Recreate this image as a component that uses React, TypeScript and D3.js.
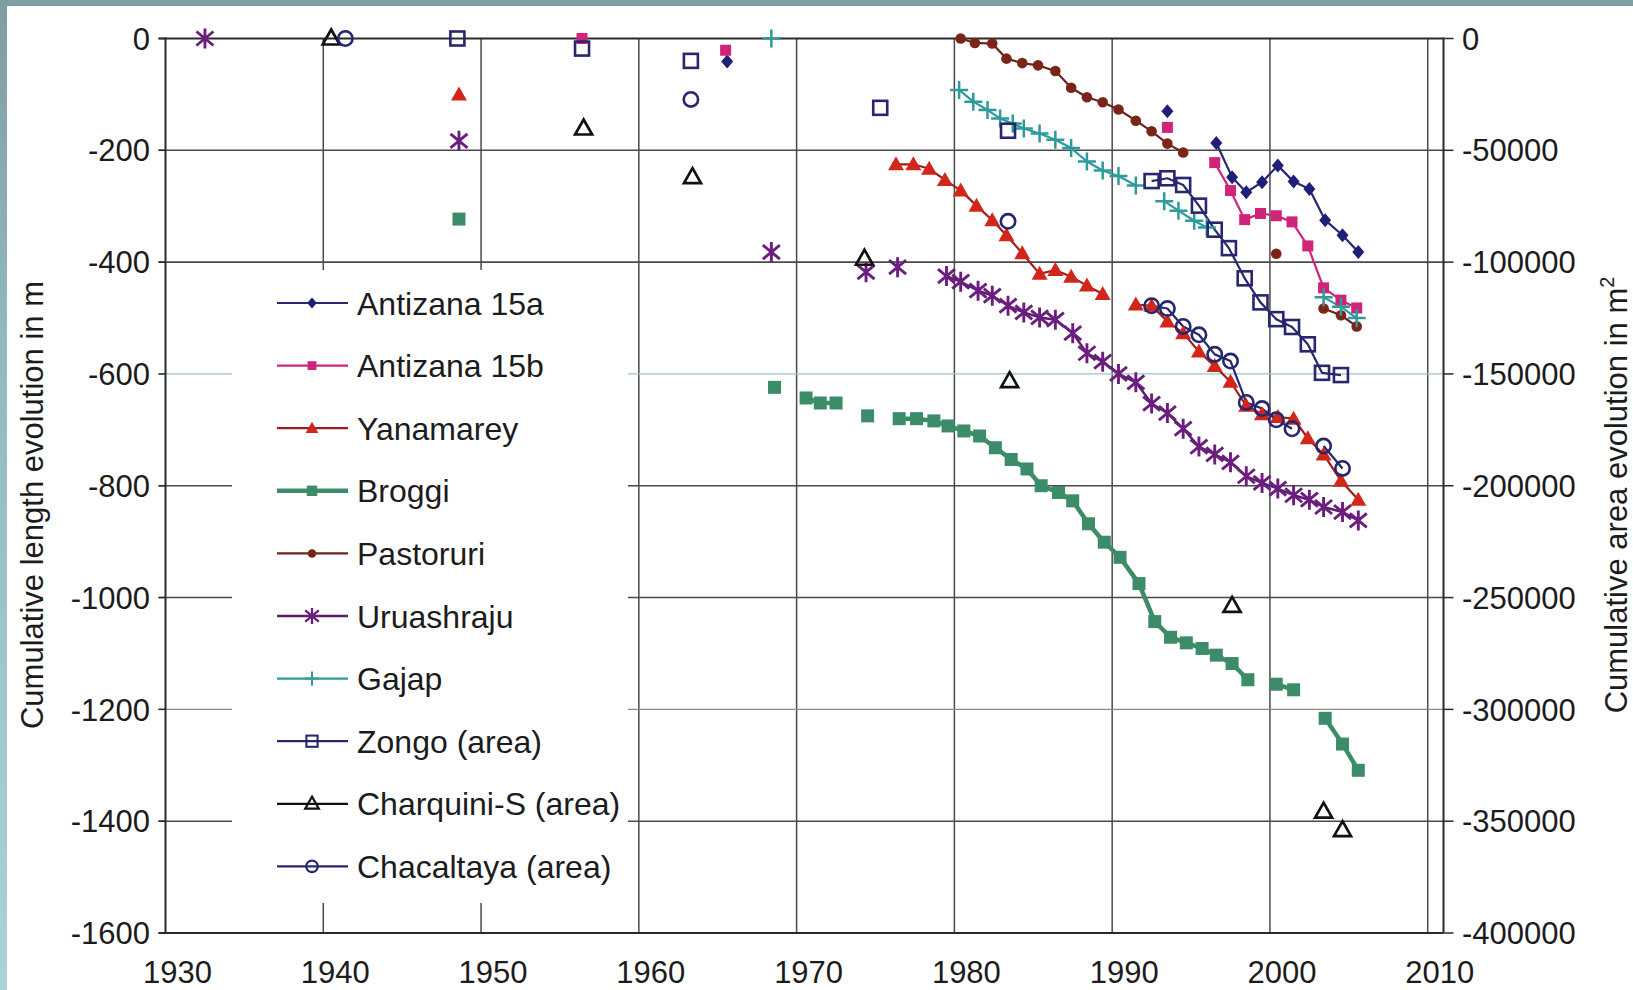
import React from "react";
import * as d3 from "d3";

type Pt = [number, number] | null;

// ---- axis ticks ----
const yearTicks = [1930, 1940, 1950, 1960, 1970, 1980, 1990, 2000, 2010];
const lengthTicks = [0, -200, -400, -600, -800, -1000, -1200, -1400, -1600];
const areaTicks = [0, -50000, -100000, -150000, -200000, -250000, -300000, -350000, -400000];

// ---- series (length in m), null = break in line ----
const antizana15a: Pt[] = [
  [1965.6, -41], null, [1993.5, -130], null,
  [1996.6, -187], [1997.6, -248], [1998.5, -275], [1999.5, -257], [2000.5, -227],
  [2001.5, -256], [2002.5, -269], [2003.5, -325], [2004.6, -352], [2005.6, -382],
];
const antizana15b: Pt[] = [
  [1956.4, 0], null, [1965.5, -21], null, [1993.5, -159], null,
  [1996.5, -222], [1997.5, -272], [1998.4, -324], [1999.4, -313], [2000.4, -317],
  [2001.4, -328], [2002.4, -371], [2003.4, -446], [2004.5, -468], [2005.5, -482],
];
const yanamarey: Pt[] = [
  [1948.6, -100], null,
  [1976.3, -225], [1977.4, -225], [1978.4, -233], [1979.4, -253], [1980.4, -272],
  [1981.4, -299], [1982.4, -325], [1983.3, -352], [1984.3, -384], [1985.4, -421],
  [1986.4, -414], [1987.4, -426], [1988.4, -442], [1989.4, -457], null,
  [1991.5, -476], [1992.5, -478], [1993.5, -506], [1994.5, -527], [1995.5, -560],
  [1996.5, -586], [1997.5, -614], [1998.5, -657], [1999.5, -672], [2000.5, -677],
  [2001.5, -680], [2002.4, -715], [2003.4, -744], [2004.5, -791], [2005.6, -825],
];
const broggi: Pt[] = [
  [1948.6, -323], null, [1968.6, -624], null,
  [1970.6, -643], [1971.5, -652], [1972.5, -652], null, [1974.5, -675], null,
  [1976.5, -680], [1977.6, -680], [1978.7, -684], [1979.6, -693], [1980.6, -702],
  [1981.6, -711], [1982.6, -732], [1983.6, -753], [1984.6, -770], [1985.5, -800],
  [1986.6, -812], [1987.5, -827], [1988.5, -868], [1989.5, -901], [1990.5, -928],
  [1991.7, -975], [1992.7, -1043], [1993.7, -1071], [1994.7, -1081], [1995.7, -1091],
  [1996.6, -1103], [1997.6, -1118], [1998.6, -1147], null,
  [2000.4, -1155], [2001.5, -1165], null,
  [2003.5, -1216], [2004.6, -1262], [2005.6, -1309],
];
const pastoruri: Pt[] = [
  [1980.4, 0], [1981.3, -8], [1982.4, -9], [1983.3, -36], [1984.3, -44],
  [1985.3, -48], [1986.4, -58], [1987.4, -88], [1988.4, -105], [1989.4, -114],
  [1990.4, -127], [1991.5, -147], [1992.5, -166], [1993.5, -188], [1994.5, -204], null,
  [2000.4, -385], null,
  [2003.4, -483], [2004.5, -495], [2005.5, -515],
];
const uruashraju: Pt[] = [
  [1932.5, 0], null, [1948.6, -183], null, [1968.4, -382], null,
  [1974.4, -418], null, [1976.4, -409], null,
  [1979.5, -425], [1980.4, -435], [1981.5, -451], [1982.4, -460], [1983.4, -478],
  [1984.4, -490], [1985.4, -499], [1986.4, -503], [1987.5, -527], [1988.4, -563],
  [1989.4, -578], [1990.4, -600], [1991.5, -615], [1992.5, -653], [1993.5, -670],
  [1994.5, -698], [1995.5, -730], [1996.5, -744], [1997.5, -758], [1998.5, -783],
  [1999.5, -795], [2000.5, -805], [2001.5, -817], [2002.5, -825], [2003.4, -838],
  [2004.6, -847], [2005.6, -862],
];
const gajap: Pt[] = [
  [1968.4, 0], null,
  [1980.3, -92], [1981.2, -113], [1982.1, -128], [1982.9, -143], [1983.7, -152],
  [1984.4, -161], [1985.4, -170], [1986.4, -181], [1987.4, -196], [1988.4, -220],
  [1989.4, -236], [1990.4, -246], [1991.5, -263], null,
  [1993.3, -291], [1994.2, -308], [1995.2, -326], [1996.0, -338], null,
  [2003.4, -463], [2004.5, -480], [2005.5, -500],
];
// ---- series (area in m2, right axis) ----
const zongo: Pt[] = [
  [1948.5, 0], null, [1956.4, -4500], null, [1963.3, -10000], null,
  [1975.3, -31000], null, [1983.4, -41250], null,
  [1992.5, -63750], [1993.5, -62500], [1994.5, -65500], [1995.5, -74750],
  [1996.5, -85500], [1997.4, -93750], [1998.4, -107250], [1999.4, -118000],
  [2000.4, -125500], [2001.4, -129000], [2002.4, -136750], [2003.3, -149500],
  [2004.5, -150500],
];
const charquiniS: Pt[] = [
  [1940.5, 0], null, [1956.5, -40250], null, [1963.4, -62000], null,
  [1974.3, -98500], null, [1983.5, -153250], null, [1997.6, -253750], null,
  [2003.4, -345750], null, [2004.6, -354000],
];
const chacaltaya: Pt[] = [
  [1941.4, 0], null, [1963.3, -27250], null, [1983.4, -81750], null,
  [1992.5, -119500], [1993.5, -120750], [1994.5, -128750], [1995.5, -132500],
  [1996.5, -141250], [1997.5, -144250], [1998.5, -162750], [1999.5, -165500],
  [2000.4, -170500], [2001.4, -174500], null,
  [2003.4, -182250], [2004.6, -192250],
];

const seriesNames = [
  "Antizana 15a", "Antizana 15b", "Yanamarey", "Broggi", "Pastoruri",
  "Uruashraju", "Gajap", "Zongo (area)", "Charquini-S (area)", "Chacaltaya (area)",
];

type MarkerKind =
  | "diamond" | "squareF" | "triF" | "squareBig" | "circleF"
  | "aster" | "plus" | "squareO" | "triO" | "circleO";

interface Style {
  data: Pt[];
  axis: "L" | "R";
  line: string;
  lw: number;
  marker: MarkerKind;
  mcolor: string;
}

const NAVY = "#27266f";
const styles: Style[] = [
  { data: antizana15a, axis: "L", line: NAVY, lw: 2.2, marker: "diamond", mcolor: "#1f1e78" },
  { data: antizana15b, axis: "L", line: "#cf2479", lw: 2.2, marker: "squareF", mcolor: "#d0247a" },
  { data: yanamarey, axis: "L", line: "#9c1f1c", lw: 2.2, marker: "triF", mcolor: "#d3261b" },
  { data: broggi, axis: "L", line: "#3d8c69", lw: 4.5, marker: "squareBig", mcolor: "#3d8c69" },
  { data: pastoruri, axis: "L", line: "#6a261c", lw: 2.2, marker: "circleF", mcolor: "#7b2519" },
  { data: uruashraju, axis: "L", line: "#5a1d6a", lw: 2.4, marker: "aster", mcolor: "#6c1e7e" },
  { data: gajap, axis: "L", line: "#2e9a9c", lw: 2.2, marker: "plus", mcolor: "#2e9a9c" },
  { data: zongo, axis: "R", line: NAVY, lw: 2.2, marker: "squareO", mcolor: NAVY },
  { data: charquiniS, axis: "R", line: "#111111", lw: 2.2, marker: "triO", mcolor: "#111111" },
  { data: chacaltaya, axis: "R", line: NAVY, lw: 2.2, marker: "circleO", mcolor: NAVY },
];

function Marker({ kind, color, cx, cy, legend }: { kind: MarkerKind; color: string; cx: number; cy: number; legend?: boolean }) {
  const k = legend ? 0.8 : 1;
  const t = `translate(${cx},${cy}) scale(${k})`;
  switch (kind) {
    case "diamond":
      return <path transform={t} d="M0,-7L6,0L0,7L-6,0Z" fill={color} />;
    case "squareF":
      return <rect transform={t} x={-5.5} y={-5.5} width={11} height={11} fill={color} />;
    case "triF":
      return <path transform={t} d="M0,-8L8,6L-8,6Z" fill={color} />;
    case "squareBig":
      return <rect transform={t} x={-6.5} y={-6.5} width={13} height={13} fill={color} />;
    case "circleF":
      return <circle transform={t} r={5.3} fill={color} />;
    case "aster":
      return (
        <path transform={t} d="M0,-10V10M-8.5,-7L8.5,7M-8.5,7L8.5,-7" stroke={color} strokeWidth={2.9} fill="none" />
      );
    case "plus":
      return <path transform={t} d="M0,-9V9M-9,0H9" stroke={color} strokeWidth={2.5} fill="none" />;
    case "squareO":
      return <rect transform={t} x={-7} y={-7} width={14} height={14} stroke={color} strokeWidth={2.6} fill="none" />;
    case "triO":
      return <path transform={t} d="M0,-9L8.5,6L-8.5,6Z" stroke={color} strokeWidth={2.7} fill="none" strokeLinejoin="miter" />;
    case "circleO":
      return <circle transform={t} r={7.2} stroke={color} strokeWidth={2.6} fill="none" />;
  }
  return null;
}

export default function App() {
  const W = 1633;
  const H = 990;
  const x = d3.scaleLinear().domain([1930, 2011]).range([165.5, 1443.5]);
  const yL = d3.scaleLinear().domain([-1600, 0]).range([933, 38.5]);
  const yR = d3.scaleLinear().domain([-400000, 0]).range([933, 38.5]);
  const font = "'Liberation Sans', Arial, Helvetica, sans-serif";
  const x0 = x(1930);
  const x1 = x(2011);

  const hGridStyle = (v: number) => {
    if (v === 0) return { stroke: "#2a2a2a", w: 2.2 };
    if (v === -600) return { stroke: "#9cc4cc", w: 1.2 };
    if (v === -1200) return { stroke: "#8a8a8a", w: 1.3 };
    return { stroke: "#4a4a4a", w: 1.6 };
  };

  const legX = 232, legY = 270, legW = 396, legH = 633;
  const entryY0 = 303, entryDy = 62.6;

  return (
    <svg
      width={W}
      height={H}
      viewBox={`0 0 ${W} ${H}`}
      style={{ position: "absolute", left: 0, top: 0, display: "block" }}
      fontFamily={font}
    >
      <defs>
        <linearGradient id="edge" x1="0" y1="0" x2="0" y2="1">
          <stop offset="0" stopColor="#7f9da2" />
          <stop offset="0.35" stopColor="#93b9bf" />
          <stop offset="1" stopColor="#a9d3d9" />
        </linearGradient>
      </defs>
      <rect x={0} y={0} width={W} height={H} fill="#ffffff" />
      <rect x={0} y={0} width={W} height={6} fill="#7f9da2" />
      <rect x={0} y={0} width={7} height={H} fill="url(#edge)" />

      {/* vertical gridlines */}
      {yearTicks.slice(1).map((t) => (
        <line key={"vg" + t} x1={x(t)} x2={x(t)} y1={yL(0)} y2={yL(-1600)} stroke="#4a4a4a" strokeWidth={1.5} />
      ))}
      {/* horizontal gridlines */}
      {lengthTicks.slice(0, -1).map((t) => {
        const s = hGridStyle(t);
        return <line key={"hg" + t} x1={x0 - 7} x2={x1} y1={yL(t)} y2={yL(t)} stroke={s.stroke} strokeWidth={s.w} />;
      })}

      {/* legend background (hides gridlines) */}
      <rect x={legX} y={legY} width={legW} height={legH} fill="#ffffff" />

      {/* axes */}
      <line x1={x0} x2={x0} y1={yL(0) - 1} y2={yL(-1600)} stroke="#2a2a2a" strokeWidth={2} />
      <line x1={x1} x2={x1} y1={yL(0) - 1} y2={yL(-1600)} stroke="#2a2a2a" strokeWidth={2} />
      <line x1={x0 - 7} x2={x1} y1={yL(-1600)} y2={yL(-1600)} stroke="#2a2a2a" strokeWidth={2} />
      {lengthTicks.map((t) => (
        <line key={"lt" + t} x1={x0 - 7} x2={x0} y1={yL(t)} y2={yL(t)} stroke="#2a2a2a" strokeWidth={1.5} />
      ))}
      {areaTicks.map((t) => (
        <line key={"rt" + t} x1={x1} x2={x1 + 10} y1={yR(t)} y2={yR(t)} stroke="#2a2a2a" strokeWidth={1.5} />
      ))}

      {/* tick labels */}
      {lengthTicks.map((t) => (
        <text key={"ll" + t} x={150} y={yL(t)} dy="0.36em" textAnchor="end" fontSize={31} fill="#1c1c1c">
          {t}
        </text>
      ))}
      {areaTicks.map((t) => (
        <text key={"rl" + t} x={1462} y={yR(t)} dy="0.36em" textAnchor="start" fontSize={31} fill="#1c1c1c">
          {t}
        </text>
      ))}
      {yearTicks.map((t) => (
        <text key={"xl" + t} x={x(t) + 12} y={983} textAnchor="middle" fontSize={31} fill="#1c1c1c">
          {t}
        </text>
      ))}

      {/* axis titles */}
      <text transform="translate(43,505) rotate(-90)" textAnchor="middle" fontSize={31} fill="#1c1c1c">
        Cumulative length evolution in m
      </text>
      <text transform="translate(1627,495) rotate(-90)" textAnchor="middle" fontSize={31} fill="#1c1c1c">
        Cumulative area evolution in m<tspan fontSize={20} dy={-13}>2</tspan>
      </text>

      {/* series lines */}
      {styles.map((s, i) => {
        const y = s.axis === "L" ? yL : yR;
        const gen = d3
          .line<Pt>()
          .defined((d) => d !== null)
          .x((d) => x((d as [number, number])[0]))
          .y((d) => y((d as [number, number])[1]));
        return (
          <path key={"ln" + i} d={gen(s.data) || ""} fill="none" stroke={s.line} strokeWidth={s.lw} strokeLinejoin="round" />
        );
      })}
      {/* series markers */}
      {styles.map((s, i) => {
        const y = s.axis === "L" ? yL : yR;
        return (
          <g key={"mk" + i}>
            {s.data
              .filter((d): d is [number, number] => d !== null)
              .map((d, j) => (
                <Marker key={j} kind={s.marker} color={s.mcolor} cx={x(d[0])} cy={y(d[1])} />
              ))}
          </g>
        );
      })}

      {/* legend */}
      {styles.map((s, i) => {
        const cy = entryY0 + i * entryDy;
        return (
          <g key={"lg" + i}>
            <line x1={277} x2={348} y1={cy} y2={cy} stroke={s.line} strokeWidth={s.lw} />
            <Marker kind={s.marker} color={s.mcolor} cx={312} cy={cy} legend />
            <text x={357} y={cy} dy="0.36em" fontSize={32} fill="#1c1c1c">
              {seriesNames[i]}
            </text>
          </g>
        );
      })}
    </svg>
  );
}
